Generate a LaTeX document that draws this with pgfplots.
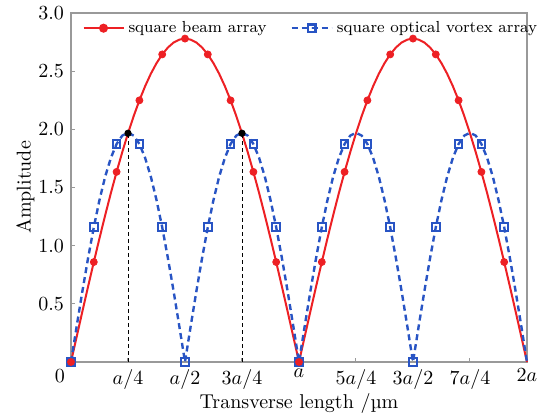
\documentclass[border=0pt]{standalone}
\usepackage{pgfplots}
\usepackage{pgfplotstable}
\pgfplotsset{compat=1.18}
\definecolor{myred}{RGB}{237,32,36}
\definecolor{myblue}{RGB}{40,84,196}
\pgfplotstableread{
x red blue
0 0 0
0.025 0.218 0.308
0.05 0.435 0.609
0.075 0.649 0.894
0.1 0.859 1.158
0.125 1.064 1.393
0.15 1.262 1.594
0.175 1.453 1.755
0.2 1.634 1.874
0.225 1.805 1.946
0.25 1.966 1.970
0.275 2.114 1.946
0.3 2.249 1.874
0.325 2.370 1.755
0.35 2.477 1.594
0.375 2.568 1.393
0.4 2.644 1.158
0.425 2.703 0.894
0.45 2.746 0.609
0.475 2.771 0.308
0.5 2.780 0
0.525 2.771 0.308
0.55 2.746 0.609
0.575 2.703 0.894
0.6 2.644 1.158
0.625 2.568 1.393
0.65 2.477 1.594
0.675 2.370 1.755
0.7 2.249 1.874
0.725 2.114 1.946
0.75 1.966 1.970
0.775 1.805 1.946
0.8 1.634 1.874
0.825 1.453 1.755
0.85 1.262 1.594
0.875 1.064 1.393
0.9 0.859 1.158
0.925 0.649 0.894
0.95 0.435 0.609
0.975 0.218 0.308
1 0 0
1.025 0.218 0.308
1.05 0.435 0.609
1.075 0.649 0.894
1.1 0.859 1.158
1.125 1.064 1.393
1.15 1.262 1.594
1.175 1.453 1.755
1.2 1.634 1.874
1.225 1.805 1.946
1.25 1.966 1.970
1.275 2.114 1.946
1.3 2.249 1.874
1.325 2.370 1.755
1.35 2.477 1.594
1.375 2.568 1.393
1.4 2.644 1.158
1.425 2.703 0.894
1.45 2.746 0.609
1.475 2.771 0.308
1.5 2.780 0
1.525 2.771 0.308
1.55 2.746 0.609
1.575 2.703 0.894
1.6 2.644 1.158
1.625 2.568 1.393
1.65 2.477 1.594
1.675 2.370 1.755
1.7 2.249 1.874
1.725 2.114 1.946
1.75 1.966 1.970
1.775 1.805 1.946
1.8 1.634 1.874
1.825 1.453 1.755
1.85 1.262 1.594
1.875 1.064 1.393
1.9 0.859 1.158
1.925 0.649 0.894
1.95 0.435 0.609
1.975 0.218 0.308
2 0 0
}\datatab
\begin{document}
\begin{tikzpicture}
\useasboundingbox (-35.5pt,-26.5pt) rectangle (238.5pt,181pt);
\begin{axis}[
  at={(0,0)}, anchor=south west,
  scale only axis, width=228pt, height=174.5pt,
  xmin=0, xmax=2, ymin=0, ymax=3,
  clip=false,
  xtick={0,0.25,0.5,0.75,1,1.25,1.5,1.75,2},
  xticklabels={\makebox[0pt][r]{0\hspace{3pt}},$a/4$,$a/2$,$3a/4$,$a$,$5a/4$,$3a/2$,$7a/4$,$2a$},
  ytick={0.5,1,1.5,2,2.5,3},
  yticklabel style={/pgf/number format/.cd, fixed, fixed zerofill, precision=1},
  tick align=inside, xtick pos=bottom, ytick pos=left,
  major tick length=2pt,
  axis line style={gray!80, line width=0.6pt},
  tick style={gray!80, line width=0.5pt},
  font=\fontsize{10}{12}\selectfont,
  xlabel={Transverse length /\textmu m},
  ylabel={Amplitude},
  x label style={at={(axis description cs:0.5,0)}, anchor=center, yshift=-21pt},
  y label style={at={(axis description cs:-0.1,0.5)}, anchor=center},
  legend image code/.code={\draw[mark repeat=2,mark phase=2] plot coordinates {(0pt,0pt)(10pt,0pt)(20pt,0pt)};},
  legend style={at={(axis description cs:0.02,0.995)}, anchor=north west, draw=none, fill=none,
    font=\fontsize{8}{9.6}\selectfont, inner sep=1pt,
    /tikz/every even column/.append style={column sep=10pt}},
  legend columns=2,
  legend cell align=left,
]
\addlegendimage{myred, line width=1pt, mark=*, mark size=1.75pt, mark options={solid}}
\addlegendentry{square beam array}
\addlegendimage{myblue, line width=1.2pt, dash pattern=on 3pt off 2pt, mark=square, mark size=1.9pt, mark options={solid, fill=white}}
\addlegendentry{square optical vortex array}
\addplot[myred, line width=1pt, forget plot] table[x=x, y=red] {\datatab};
\addplot[myblue, line width=1.2pt, dash pattern=on 3pt off 2pt, forget plot] table[x=x, y=blue] {\datatab};
\addplot[black, line width=0.4pt, dash pattern=on 2pt off 1.5pt, forget plot] coordinates {(0.25,0) (0.25,1.966)};
\addplot[black, line width=0.4pt, dash pattern=on 2pt off 1.5pt, forget plot] coordinates {(0.75,0) (0.75,1.966)};
\addplot[only marks, mark=square, mark size=1.9pt, mark options={myblue, line width=1pt, fill=white}, mark repeat=4, restrict x to domain=0:1.95, forget plot] table[x=x, y=blue] {\datatab};
\addplot[only marks, mark=*, mark size=1.75pt, mark options={myred}, mark repeat=4, restrict x to domain=0:1.95, forget plot] table[x=x, y=red] {\datatab};
\addplot[only marks, mark=*, mark size=1.6pt, black, forget plot] coordinates {(0.25,1.966) (0.75,1.966)};
\end{axis}
\end{tikzpicture}
\end{document}
